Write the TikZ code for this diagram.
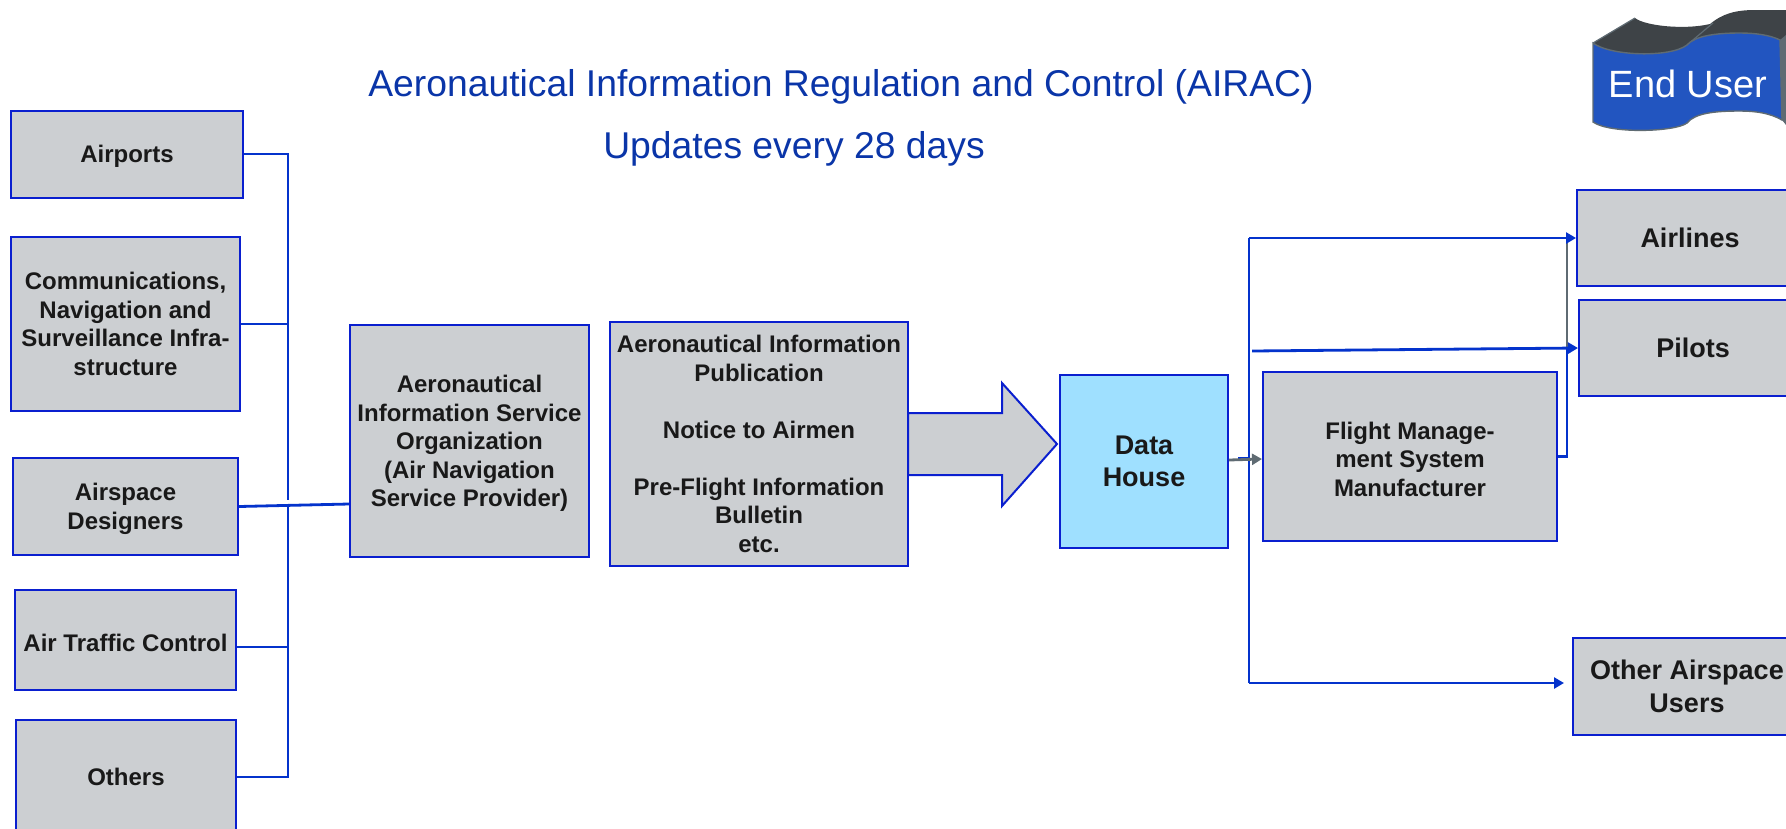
\documentclass[tikz,border=0pt]{standalone}
\usepackage{fontspec}
\setmainfont{Liberation Sans}
\usetikzlibrary{arrows.meta}
\definecolor{boxfill}{HTML}{CCCFD2}
\definecolor{boxline}{HTML}{0A1FCF}
\definecolor{linkblue}{HTML}{0433CC}
\definecolor{linkgray}{HTML}{5F6B73}
\definecolor{housefill}{HTML}{9FE0FF}
\definecolor{titleblue}{HTML}{0A35A8}
\definecolor{bannerblue}{HTML}{2255C0}
\definecolor{bannerdark}{HTML}{3E4347}
\newcommand{\lowline}{\rule{0pt}{22.5pt}}
\begin{document}
\begin{tikzpicture}[
				x=1pt,y=-1pt,
				infobox/.style={draw=boxline,line width=2pt,fill=boxfill,align=center,inner sep=0pt,text=black!90,font=\bfseries\fontsize{24}{28.5}\selectfont},
				bigbox/.style={infobox,font=\bfseries\fontsize{27}{32.5}\selectfont},
				titletext/.style={text=titleblue,font=\fontsize{37.3}{44}\selectfont,inner sep=0pt},
				link/.style={draw=linkblue,line width=2.8pt},
				linktip/.style={link,-{Triangle[length=10pt,width=11pt]}},
				graylink/.style={draw=linkgray,line width=2.8pt}
			]
			\path[use as bounding box,clip] (0,0) rectangle (1786,828);

			\node[titletext] (title) at (841,87) {Aeronautical Information Regulation and Control (AIRAC)};
			\node[titletext] (updates) at (794,149) {Updates every 28 days};

			\node[infobox,minimum width=232pt,minimum height=87pt] (airports) at (127,154) {\lowline Airports};
			\node[infobox,minimum width=229pt,minimum height=174pt] (comm) at (125.5,324) {Communications,\\Navigation and\\Surveillance Infra-\\structure};
			\node[infobox,minimum width=225pt,minimum height=97pt] (designers) at (125.5,506.5) {\lowline Airspace\\Designers};
			\node[infobox,minimum width=221pt,minimum height=100pt] (atc) at (125.5,640) {\lowline Air Traffic Control};
			\node[infobox,minimum width=220pt,minimum height=114pt] (others) at (126,777) {Others};

			\node[infobox,minimum width=239pt,minimum height=232pt] (aiso) at (469.5,441) {\lowline Aeronautical\\Information Service\\Organization\\(Air Navigation\\Service Provider)};

			\draw[draw=boxline,line width=2pt,fill=boxfill] (908,413) -- (1002,413) -- (1002,383) -- (1057,444) -- (1002,506) -- (1002,475) -- (908,475) -- cycle;
			\node[infobox,minimum width=298pt,minimum height=244pt] (aip) at (759,444) {Aeronautical Information\\Publication\\[28.5pt]Notice to Airmen\\[28.5pt]Pre-Flight Information\\Bulletin\\etc.};

			\node[bigbox,fill=housefill,minimum width=168pt,minimum height=173pt] (house) at (1144,461.5) {Data\\House};
			\node[infobox,minimum width=294pt,minimum height=169pt] (fms) at (1410,456.5) {\lowline Flight Manage-\\ment System\\Manufacturer};

			\node[bigbox,minimum width=226pt,minimum height=96pt] (airlines) at (1690,238) {Airlines};
			\node[bigbox,minimum width=228pt,minimum height=96pt] (pilots) at (1693,348) {Pilots};
			\node[bigbox,minimum width=228pt,minimum height=97pt] (otherusers) at (1687,686.5) {Other Airspace\\Users};

			\coordinate (busup) at (288,500);
			\coordinate (buslow) at (288,506);
			\coordinate (fanout) at (1249,238);
			\coordinate (fanlow) at (1249,683);
			\coordinate (otherend) at (1564,683);
			\coordinate (pilotstart) at (1252,351);
			\coordinate (stub) at (1238,458);
			\coordinate (stubend) at (1249,458);
			\coordinate (fmsrise) at (1567,347);
			\coordinate (airlinesfoot) at (1567,238);

			\draw[link] (airports.east) -| (busup);
			\draw[link] (comm.east) -- (comm.east -| busup);
			\draw[link] (designers.east) -- (aiso.west |- 0,504);
			\draw[link] ([yshift=-7pt]atc.east) -- ([yshift=-7pt]atc.east -| buslow);
			\draw[link] (others.east) -| (buslow);

			\draw[graylink] (fmsrise) -- (airlinesfoot);
			\draw[link] (fanlow) -- (fanout);
			\draw[linktip] (fanout) -- (airlines.west);
			\draw[linktip] (fanlow) -- (otherend);
			\draw[linktip] (pilotstart) -- (pilots.west);
			\draw[link] (fms.east) -| (fmsrise);
			\draw[link] (stub) -- (stubend);
			\draw[graylink,-{Triangle[length=10pt,width=11pt]}] (house.east |- 0,460) -- (fms.west |- 0,459);

			% banner at the top right
			\fill[bannerdark] (1593,43) -- (1635,18) .. controls (1645,26) and (1685,30) .. (1710,24) .. controls (1722,14) and (1735,10) .. (1755,10) -- (1786,10) -- (1786,40) -- (1593,60) -- cycle;
			\draw[linkgray,line width=1.2pt] (1593,43) -- (1635,18);
			\draw[linkgray,line width=1.2pt] (1687,45) -- (1713,23);
			\fill[linkgray] (1780,40) -- (1786,35) -- (1786,125) -- (1782,120) -- cycle;
			\filldraw[fill=bannerblue,draw=linkgray,line width=1.4pt] (1593,43) .. controls (1610,56) and (1670,58) .. (1687,45) .. controls (1695,36) and (1715,33) .. (1740,33) .. controls (1755,33) and (1770,35) .. (1780,40) -- (1782,120) .. controls (1770,113) and (1755,111) .. (1740,111) .. controls (1715,111) and (1695,113) .. (1687,123) .. controls (1675,132) and (1610,134) .. (1593,122) -- cycle;
			\node[text=white,inner sep=0pt,font=\fontsize{38}{44}\selectfont] (banner) at (1688,84) {End User};
		\end{tikzpicture}
\end{document}
